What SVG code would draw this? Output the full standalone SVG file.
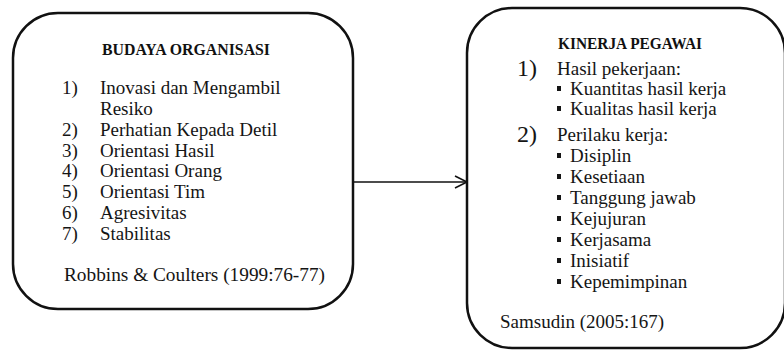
<svg xmlns="http://www.w3.org/2000/svg" width="784" height="351" viewBox="0 0 784 351">
<style>
.box{fill:#ffffff;stroke:#111111;stroke-width:2.5}
.t{font-family:"Liberation Serif","DejaVu Serif",serif;font-size:19px;fill:#151515}
.h{font-family:"Liberation Serif","DejaVu Serif",serif;font-size:17px;font-weight:bold;fill:#111111}
.n{font-family:"Liberation Serif","DejaVu Serif",serif;font-size:24px;fill:#151515}
.b{fill:#151515}
.c{fill:none;stroke:#111111;stroke-width:1.6}
</style>
<rect width="784" height="351" fill="#ffffff"/>
<g id="connectors">
<line class="c" x1="353" y1="182" x2="466" y2="182"/>
<path class="c" d="M455,176 L467,182 L455,188"/>
</g>
<g id="budaya-organisasi">
<rect class="box" x="13" y="13" width="340" height="296" rx="45" ry="45"/>
<text class="h" x="102" y="55" textLength="168" lengthAdjust="spacingAndGlyphs">BUDAYA ORGANISASI</text>
<text class="t" x="62" y="94">1)</text><text class="t" x="100" y="94">Inovasi dan Mengambil</text>
<text class="t" x="100" y="115">Resiko</text>
<text class="t" x="62" y="136">2)</text><text class="t" x="100" y="136">Perhatian Kepada Detil</text>
<text class="t" x="62" y="157">3)</text><text class="t" x="100" y="157">Orientasi Hasil</text>
<text class="t" x="62" y="177">4)</text><text class="t" x="100" y="177">Orientasi Orang</text>
<text class="t" x="62" y="198">5)</text><text class="t" x="100" y="198">Orientasi Tim</text>
<text class="t" x="62" y="219">6)</text><text class="t" x="100" y="219">Agresivitas</text>
<text class="t" x="62" y="240">7)</text><text class="t" x="100" y="240">Stabilitas</text>
<text class="t" x="64" y="281" textLength="261" lengthAdjust="spacingAndGlyphs">Robbins &amp; Coulters (1999:76-77)</text>
</g>
<g id="kinerja-pegawai">
<rect class="box" x="467" y="8" width="318" height="340" rx="45" ry="45"/>
<text class="h" x="558" y="49" style="font-size:16px" textLength="144" lengthAdjust="spacingAndGlyphs">KINERJA PEGAWAI</text>
<text class="n" x="517" y="76">1)</text><text class="t" x="557" y="75">Hasil pekerjaan:</text>
<rect class="b" x="557" y="86" width="4" height="5"/><text class="t" x="570" y="95">Kuantitas hasil kerja</text>
<rect class="b" x="557" y="106" width="4" height="5"/><text class="t" x="570" y="115">Kualitas hasil kerja</text>
<text class="n" x="517" y="142">2)</text><text class="t" x="557" y="141">Perilaku kerja:</text>
<rect class="b" x="557" y="153" width="4" height="5"/><text class="t" x="570" y="162">Disiplin</text>
<rect class="b" x="557" y="174" width="4" height="5"/><text class="t" x="570" y="183">Kesetiaan</text>
<rect class="b" x="557" y="195" width="4" height="5"/><text class="t" x="570" y="204">Tanggung jawab</text>
<rect class="b" x="557" y="216" width="4" height="5"/><text class="t" x="570" y="225">Kejujuran</text>
<rect class="b" x="557" y="237" width="4" height="5"/><text class="t" x="570" y="246">Kerjasama</text>
<rect class="b" x="557" y="258" width="4" height="5"/><text class="t" x="570" y="267">Inisiatif</text>
<rect class="b" x="557" y="279" width="4" height="5"/><text class="t" x="570" y="288">Kepemimpinan</text>
<text class="t" x="500" y="328">Samsudin (2005:167)</text>
</g>
</svg>
